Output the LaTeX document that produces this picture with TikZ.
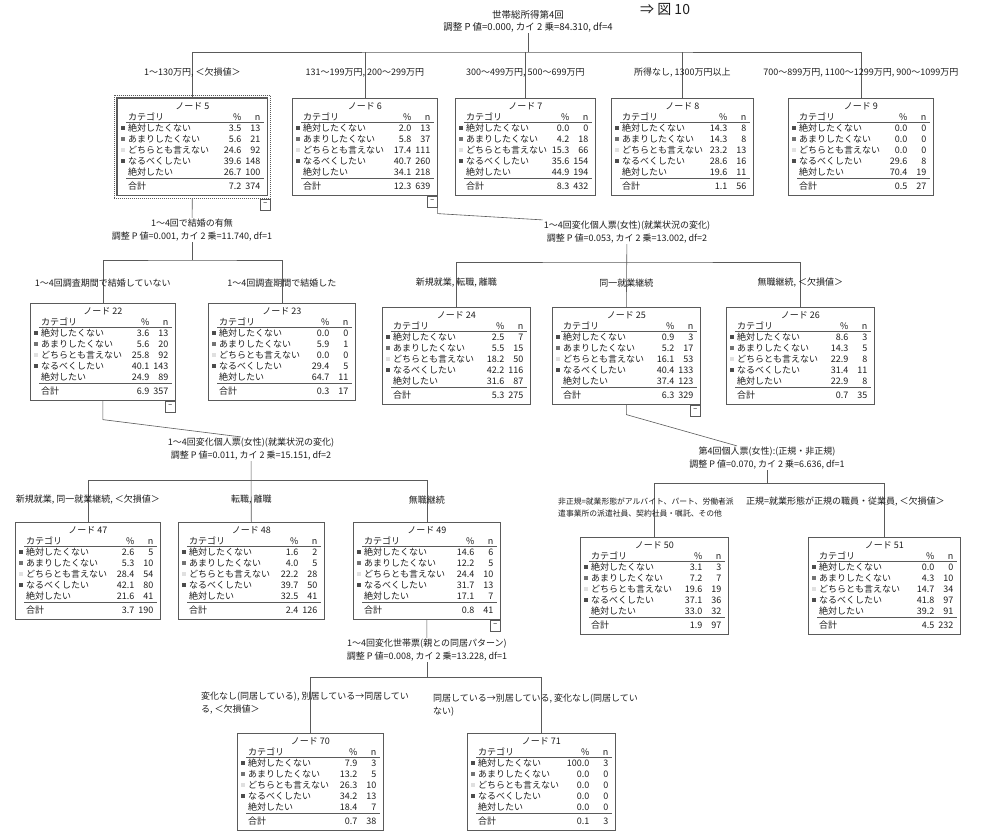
\documentclass[tikz,border=0pt]{standalone}
\usepackage{fontspec}
\setmainfont{Noto Sans CJK JP}
\usepackage{tikz}
\usetikzlibrary{calc,positioning}
\definecolor{TreeLine}{HTML}{5A5A5A}
\definecolor{TreeText}{HTML}{1E1E1E}

\newcommand{\ctree}[8]{%
  \node[tbox, minimum width=#4pt] (#1) at (#2,#3) {};
  \node[cell, anchor=base] at ($(#1.north)+(0,11)$) {ノード #5};
  \node[cell, anchor=base west] at ($(#1.north west)+(11,22)$) {カテゴリ};
  \node[cell, anchor=base east] at ($(#1.north east)+(-26,22)$) {\%};
  \node[cell, anchor=base east] at ($(#1.north east)+(-7,22)$) {n};
  \draw[tabrule] ($(#1.north west)+(9,24.5)$) -- ($(#1.north east)+(-4,24.5)$);
  \foreach \pc/\nc [count=\i] in {#6} {
    \ifcase\i\or\def\bc{black!70}\or\def\bc{black!55}\or\def\bc{black!12}\or\def\bc{black!70}\or\def\bc{white}\fi
    \fill[\bc] ($(#1.north west)+(3.5,{16.5+11*\i})$) rectangle ++(4.5,4.5);
    \node[cell, anchor=base west] at ($(#1.north west)+(11,{22+11*\i})$) {\ifcase\i\or 絶対したくない\or あまりしたくない\or どちらとも言えない\or なるべくしたい\or 絶対したい\fi};
    \node[cell, anchor=base east] at ($(#1.north east)+(-26,{22+11*\i})$) {\pc};
    \node[cell, anchor=base east] at ($(#1.north east)+(-7,{22+11*\i})$) {\nc};
  }
  \draw[tabrule] ($(#1.north west)+(9,80.5)$) -- ($(#1.north east)+(-4,80.5)$);
  \node[cell, anchor=base west] at ($(#1.north west)+(11,91)$) {合計};
  \node[cell, anchor=base east] at ($(#1.north east)+(-26,91)$) {#7};
  \node[cell, anchor=base east] at ($(#1.north east)+(-7,91)$) {#8};
}

\begin{document}
\begin{tikzpicture}[
  x=1pt, y=-1pt,
  tbox/.style={draw=TreeLine, line width=0.6pt, fill=white, anchor=north west, minimum height=97pt, inner sep=0pt},
  cell/.style={inner sep=0pt, text=TreeText, font=\fontsize{9}{10}\selectfont},
  lbl/.style={inner sep=1pt, text=TreeText, font=\fontsize{9}{12.5}\selectfont, align=center},
  tabrule/.style={draw=TreeLine, line width=0.5pt},
  link/.style={draw=TreeLine, line width=0.6pt},
  toggle/.style={draw=TreeLine, line width=0.5pt, fill=white, minimum width=10pt, minimum height=11pt, inner sep=0pt, font=\fontsize{7}{7}\selectfont, anchor=north east}
]
\useasboundingbox (0,0) rectangle (987,831);
\clip (0,0) rectangle (987,831);
\fill[white] (0,0) rectangle (987,831);

\node[text=TreeText, font=\fontsize{14}{14}\selectfont, anchor=base west, inner sep=0pt] (fig) at (640,14) {⇒ 図 10};

\ctree{n5}{117}{98}{150}{5}{3.5/13,5.6/21,24.6/92,39.6/148,26.7/100}{7.2}{374}
\ctree{n6}{292}{98}{145}{6}{2.0/13,5.8/37,17.4/111,40.7/260,34.1/218}{12.3}{639}
\ctree{n7}{455}{98}{140}{7}{0.0/0,4.2/18,15.3/66,35.6/154,44.9/194}{8.3}{432}
\ctree{n8}{611}{98}{142}{8}{14.3/8,14.3/8,23.2/13,28.6/16,19.6/11}{1.1}{56}
\ctree{n9}{788}{98}{145}{9}{0.0/0,0.0/0,0.0/0,29.6/8,70.4/19}{0.5}{27}
\ctree{n22}{30}{303}{145}{22}{3.6/13,5.6/20,25.8/92,40.1/143,24.9/89}{6.9}{357}
\ctree{n23}{208}{303}{147}{23}{0.0/0,5.9/1,0.0/0,29.4/5,64.7/11}{0.3}{17}
\ctree{n24}{382}{307}{148}{24}{2.5/7,5.5/15,18.2/50,42.2/116,31.6/87}{5.3}{275}
\ctree{n25}{552}{307}{148}{25}{0.9/3,5.2/17,16.1/53,40.4/133,37.4/123}{6.3}{329}
\ctree{n26}{726}{307}{148}{26}{8.6/3,14.3/5,22.9/8,31.4/11,22.9/8}{0.7}{35}
\ctree{n47}{15}{522}{145}{47}{2.6/5,5.3/10,28.4/54,42.1/80,21.6/41}{3.7}{190}
\ctree{n48}{178}{522}{146}{48}{1.6/2,4.0/5,22.2/28,39.7/50,32.5/41}{2.4}{126}
\ctree{n49}{353}{522}{147}{49}{14.6/6,12.2/5,24.4/10,31.7/13,17.1/7}{0.8}{41}
\ctree{n50}{580}{537}{148}{50}{3.1/3,7.2/7,19.6/19,37.1/36,33.0/32}{1.9}{97}
\ctree{n51}{808}{537}{152}{51}{0.0/0,4.3/10,14.7/34,41.8/97,39.2/91}{4.5}{232}
\ctree{n70}{237}{733}{146}{70}{7.9/3,13.2/5,26.3/10,34.2/13,18.4/7}{0.7}{38}
\ctree{n71}{467}{733}{148}{71}{100.0/3,0.0/0,0.0/0,0.0/0,0.0/0}{0.1}{3}

\draw[TreeLine, line width=1.2pt] (n5.north west) rectangle (n5.south east);
\draw[TreeLine, densely dotted, line width=1pt] ($(n5.north west)+(-3,-3)$) rectangle ($(n5.south east)+(3,3)$);

\node[lbl, font=\fontsize{9.5}{12}\selectfont] (root) at (528,21) {世帯総所得第4回\\調整 P 値=0.000, カイ 2 乗=84.310, df=4};
\coordinate (bar0) at (528,52);
\draw[link] (root) -- (bar0);
\draw[link] (n5.north) |- (bar0) -| (n9.north);
\foreach \k in {n6,n7,n8} \draw[link] (\k.north) -- (\k.north |- bar0);
\node[lbl] at ($(n5.north)+(0,-25)$) {1～130万円, ＜欠損値＞};
\node[lbl] at ($(n6.north)+(0,-25)$) {131～199万円, 200～299万円};
\node[lbl] at ($(n7.north)+(0,-25)$) {300～499万円, 500～699万円};
\node[lbl] at ($(n8.north)+(0,-25)$) {所得なし, 1300万円以上};
\node[lbl] at ($(n9.north)+(0,-25)$) {700～899万円, 1100～1299万円, 900～1099万円};

\node[toggle] (t5) at ($(n5.south east)+(3,3)$) {−};
\node[lbl] (s5) at (192,230) {1～4回で結婚の有無\\調整 P 値=0.001, カイ 2 乗=11.740, df=1};
\coordinate (bar5) at (192,260);
\draw[link] ($(n5.south)+(0,3)$) -- (s5);
\draw[link] (s5) -- (bar5);
\draw[link] (n22.north) |- (bar5) -| (n23.north);
\node[lbl] at ($(n22.north)+(0,-20)$) {1～4回調査期間で結婚していない};
\node[lbl] at ($(n23.north)+(0,-20)$) {1～4回調査期間で結婚した};

\node[toggle] (t6) at (n6.south east) {−};
\node[lbl] (s6) at (627,232) {1～4回変化個人票(女性)(就業状況の変化)\\調整 P 値=0.053, カイ 2 乗=13.002, df=2};
\coordinate (bar6) at (627,262);
\draw[link] (n6.south east) -- ++(0,18) -- (s6.north west);
\draw[link] (s6) -- (n25.north);
\draw[link] (n24.north) |- (bar6) -| (n26.north);
\node[lbl] at ($(n24.north)+(0,-24)$) {新規就業, 転職, 離職};
\node[lbl] at ($(n25.north)+(0,-24)$) {同一就業継続};
\node[lbl] at ($(n26.north)+(0,-24)$) {無職継続, ＜欠損値＞};

\node[toggle] (t22) at (n22.south east) {−};
\node[lbl] (s22) at (251,449) {1～4回変化個人票(女性)(就業状況の変化)\\調整 P 値=0.011, カイ 2 乗=15.151, df=2};
\draw[link] (n22.south) -- ++(0,19) -- ($(s22.north)+(-10,0)$);
\coordinate (bar22) at (251,480);
\draw[link] (s22) -- (n48.north);
\draw[link] (n47.north) |- (bar22) -| (n49.north);
\node[lbl] at ($(n47.north)+(0,-22)$) {新規就業, 同一就業継続, ＜欠損値＞};
\node[lbl] at ($(n48.north)+(0,-22)$) {転職, 離職};
\node[lbl] at ($(n49.north)+(0,-22)$) {無職継続};

\node[toggle] (t49) at (n49.south east) {−};
\node[lbl] (s49) at (427,650) {1～4回変化世帯票(親との同居パターン)\\調整 P 値=0.008, カイ 2 乗=13.228, df=1};
\coordinate (bar49) at (427,677);
\draw[link] (n49.south) -- (s49);
\draw[link] (s49) -- (bar49);
\draw[link] (n70.north) |- (bar49) -| (n71.north);
\node[lbl, align=left, anchor=north west] at (200,691) {変化なし(同居している), 別居している→同居してい\\る, ＜欠損値＞};
\node[lbl, align=left, anchor=north west] at (432,693) {同居している→別居している, 変化なし(同居してい\\ない)};

\node[toggle] (t25) at (n25.south east) {−};
\node[lbl] (s25) at (767,458) {第4回個人票(女性):(正規・非正規)\\調整 P 値=0.070, カイ 2 乗=6.636, df=1};
\coordinate (bar25) at (767,483);
\draw[link] (n25.south) -- ++(0,10) -- ($(s25.north)+(-30,0)$);
\draw[link] (s25) -- (bar25);
\draw[link] (n50.north) |- (bar25) -| (n51.north);
\node[lbl, align=left, anchor=north west, font=\fontsize{7.8}{12}\selectfont] at (557,497) {非正規=就業形態がアルバイト、パート、労働者派\\遣事業所の派遣社員、契約社員・嘱託、その他};
\node[lbl, anchor=north west] at (745,496) {正規=就業形態が正規の職員・従業員, ＜欠損値＞};
\end{tikzpicture}
\end{document}
